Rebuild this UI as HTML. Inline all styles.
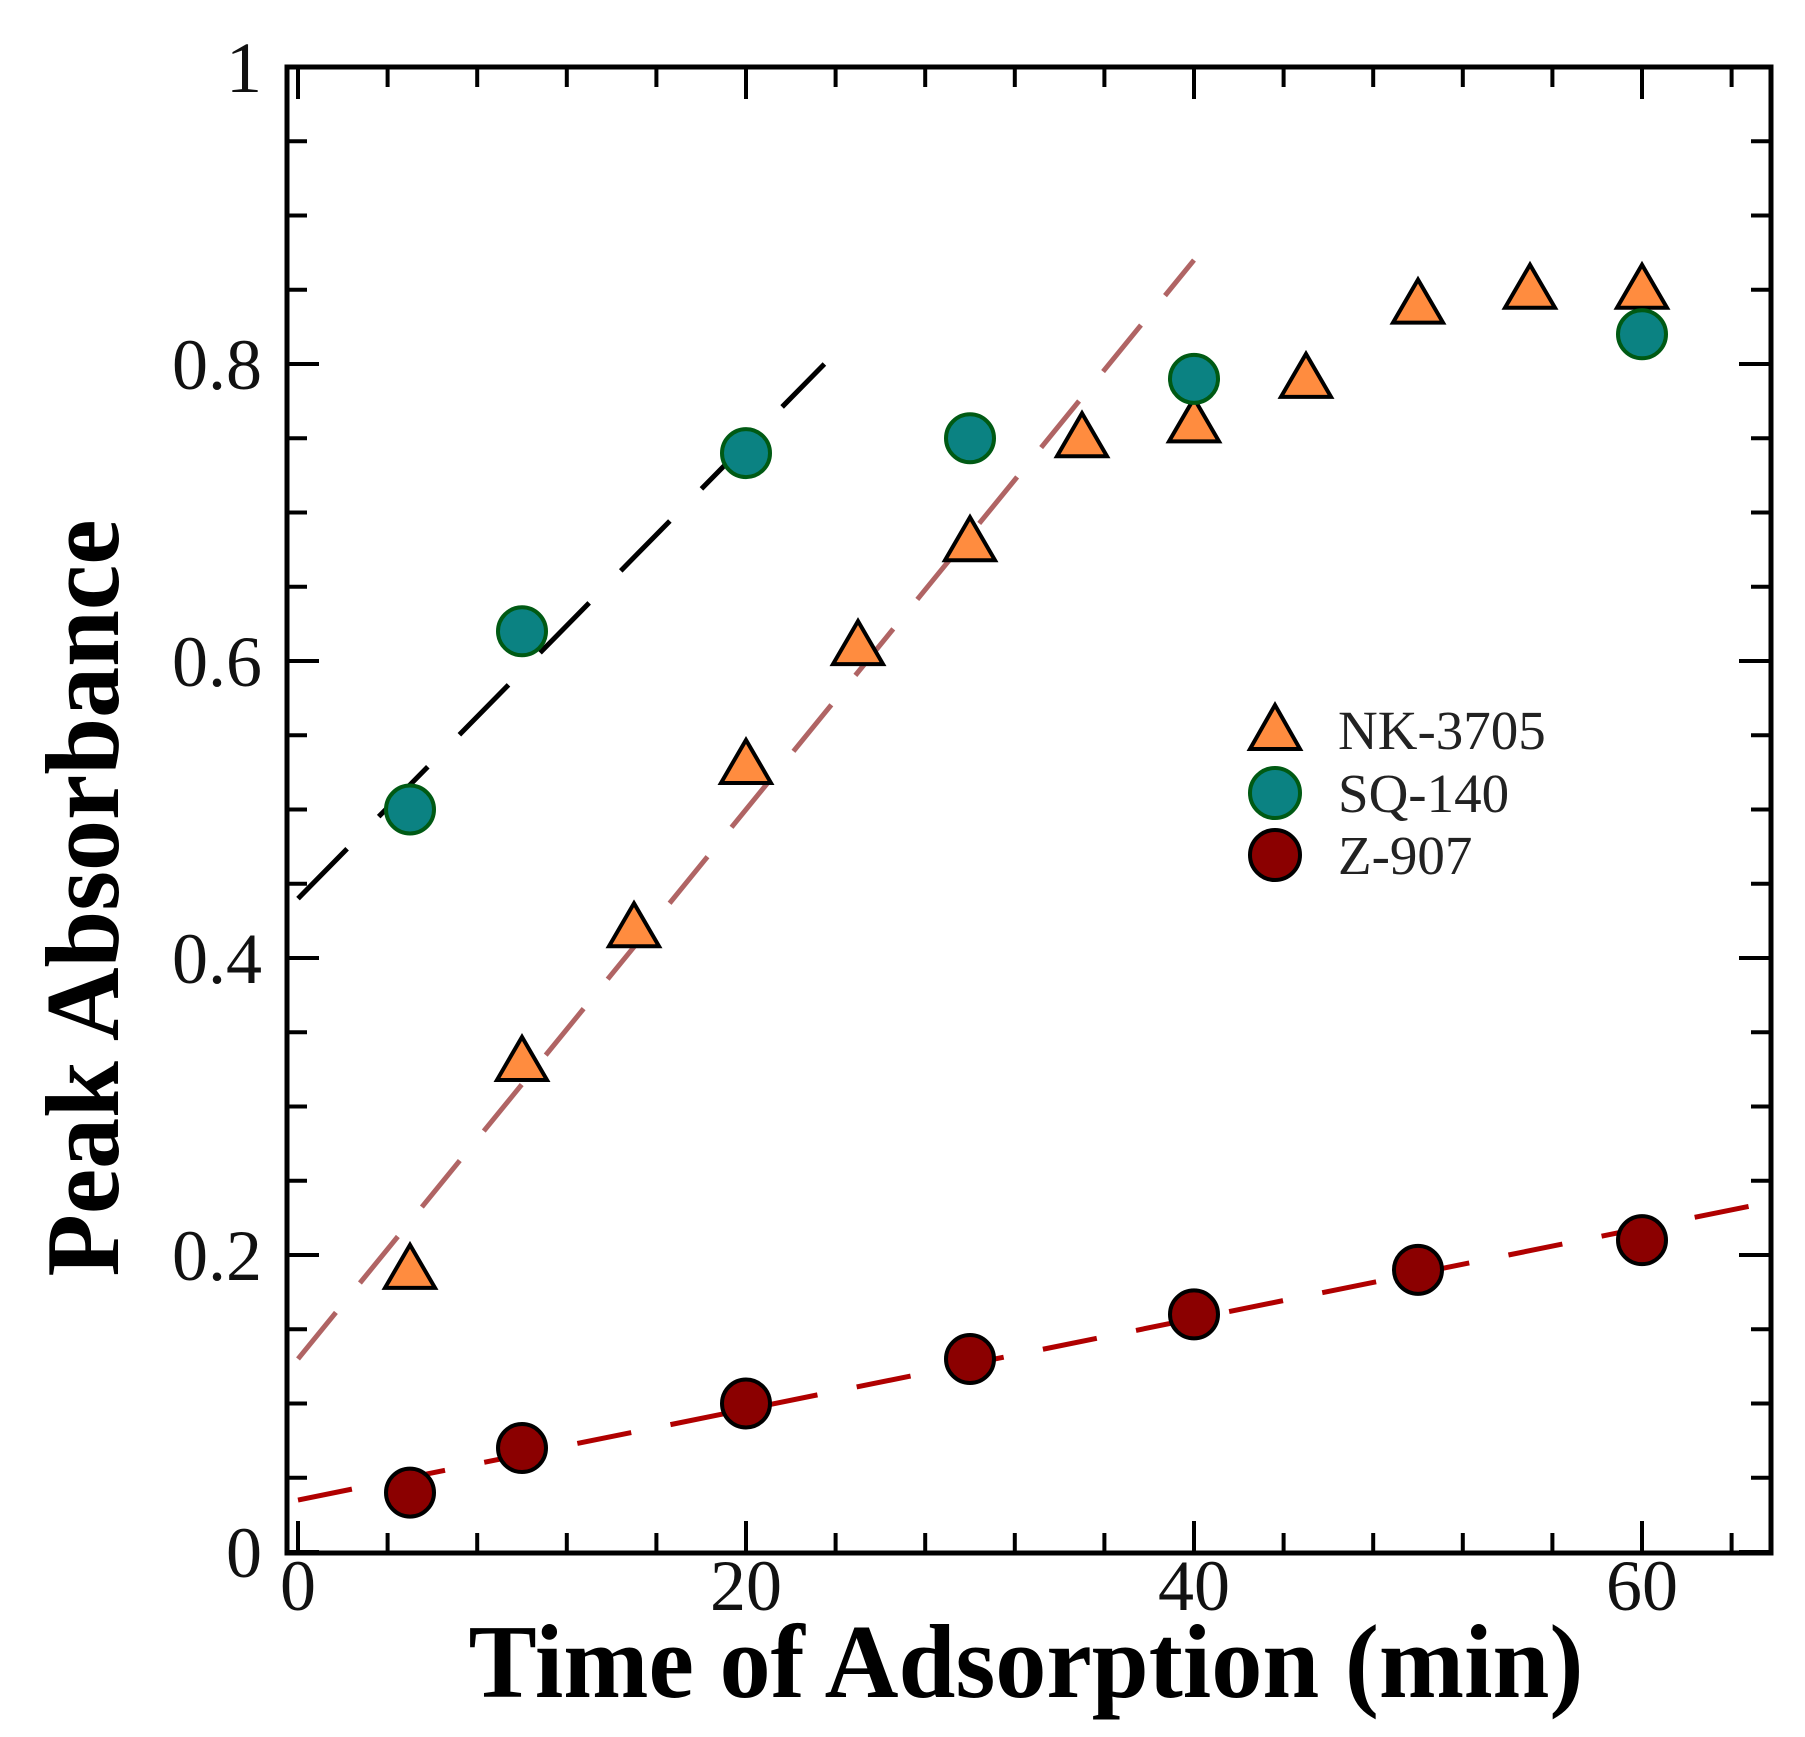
<!DOCTYPE html>
<html><head><meta charset="utf-8"><style>html,body{margin:0;padding:0;background:#fff}svg{display:block}</style></head>
<body>
<svg id="chart" width="1805" height="1737" viewBox="0 0 1805 1737" xmlns="http://www.w3.org/2000/svg" font-family="'Liberation Serif', serif">
<g id="ticks"></g>
<g id="lines"></g>
<g id="marks"></g>
<rect x="287" y="67" width="1484" height="1486" fill="none" stroke="#000" stroke-width="5"/>
<g id="labels"></g>
<text x="1026" y="1697" font-size="105" font-weight="bold" text-anchor="middle" textLength="1115" lengthAdjust="spacingAndGlyphs">Time of Adsorption (min)</text>
<text transform="translate(118,898) rotate(-90)" font-size="105" font-weight="bold" text-anchor="middle" textLength="757" lengthAdjust="spacingAndGlyphs">Peak Absorbance</text>
<g>
<polygon points="1250,749 1300,749 1275,705" fill="#ff8c3f" stroke="#000" stroke-width="4"/>
<text x="1338" y="749" font-size="55" fill="#222">NK-3705</text>
<circle cx="1275" cy="793" r="25" fill="#0b8282" stroke="#005a14" stroke-width="4"/>
<text x="1338" y="812" font-size="55" fill="#222">SQ-140</text>
<circle cx="1275" cy="855" r="25" fill="#8b0000" stroke="#000" stroke-width="4"/>
<text x="1338" y="874" font-size="55" fill="#222">Z-907</text>
</g>
</svg>
<script>
const nkX=[5,10,15,20,25,30,35,40,45,50,55,60];
const nkY=[0.19,0.33,0.42,0.53,0.61,0.68,0.75,0.76,0.79,0.84,0.85,0.85];
const sqX=[5,10,20,30,40,60];
const sqY=[0.50,0.62,0.74,0.75,0.79,0.82];
const zX=[5,10,20,30,40,50,60];
const zY=[0.04,0.07,0.10,0.13,0.16,0.19,0.21];
const fitSqX=[0,23.5]; const fitSqY=[0.44,0.80];
const fitNkX=[0,40]; const fitNkY=[0.13,0.87];
const fitZX=[0,65.5]; const fitZY=[0.035,0.235];
const xTickLabels=["0","20","40","60"];
const yTickLabels=["0","0.2","0.4","0.6","0.8","1"];
const NS='http://www.w3.org/2000/svg';
function sx(v){return 298+v*22.4;}
function sy(v){return 1552-v*1485;}
function mk(tag,attrs,parent){const e=document.createElementNS(NS,tag);for(const k in attrs)e.setAttribute(k,attrs[k]);parent.appendChild(e);return e;}
const T=document.getElementById('ticks'),L=document.getElementById('lines'),M=document.getElementById('marks'),LB=document.getElementById('labels');
for(let v=0;v<=64;v+=4){const maj=v%20===0;const len=maj?32:20;const x=sx(v);
 let t=mk('line',{x1:x,x2:x,y1:1553,y2:1553-len,stroke:'#000','stroke-width':4},T);
 
 
 t=mk('line',{x1:x,x2:x,y1:67,y2:67+len,stroke:'#000','stroke-width':4},T);
 
 }
for(let i=0;i<=20;i++){const v=i*0.05;const maj=i%4===0;const len=maj?32:20;const y=sy(v);
 let t=mk('line',{x1:287,x2:287+len,y1:y,y2:y,stroke:'#000','stroke-width':4},T);
 
 
 t=mk('line',{x1:1771,x2:1771-len,y1:y,y2:y,stroke:'#000','stroke-width':4},T);
 
 }
xTickLabels.forEach(s=>{const e=mk('text',{x:sx(+s),y:1610,'font-size':72,'text-anchor':'middle',fill:'#111'},LB);e.textContent=s;
 
 });
yTickLabels.forEach(s=>{const e=mk('text',{x:262,y:sy(+s)+25,'font-size':72,'text-anchor':'end',fill:'#111'},LB);e.textContent=s;
 
 });
function fit(xs,ys,col,dash,w,name){const e=mk('line',{x1:sx(xs[0]),y1:sy(ys[0]),x2:sx(xs[1]),y2:sy(ys[1]),stroke:col,'stroke-width':w,'stroke-dasharray':dash},L);
 
 }
fit(fitSqX,fitSqY,'#000','70 45',5,'fit-line-sq140');
fit(fitNkX,fitNkY,'#b06464','60 38',5,'fit-line-nk3705');
fit(fitZX,fitZY,'#b00000','55 40',5,'fit-line-z907');
nkX.forEach((x,i)=>{const cx=sx(x),cy=sy(nkY[i]);const e=mk('polygon',{points:`${cx-25},${cy+18} ${cx+25},${cy+18} ${cx},${cy-25}`,fill:'#ff8c3f',stroke:'#000','stroke-width':4},M);
 
 });
sqX.forEach((x,i)=>{const e=mk('circle',{cx:sx(x),cy:sy(sqY[i]),r:24,fill:'#0b8282',stroke:'#005a14','stroke-width':4},M);
 
 });
zX.forEach((x,i)=>{const e=mk('circle',{cx:sx(x),cy:sy(zY[i]),r:24,fill:'#8b0000',stroke:'#000','stroke-width':4},M);
 
 });
</script>
</body></html>
